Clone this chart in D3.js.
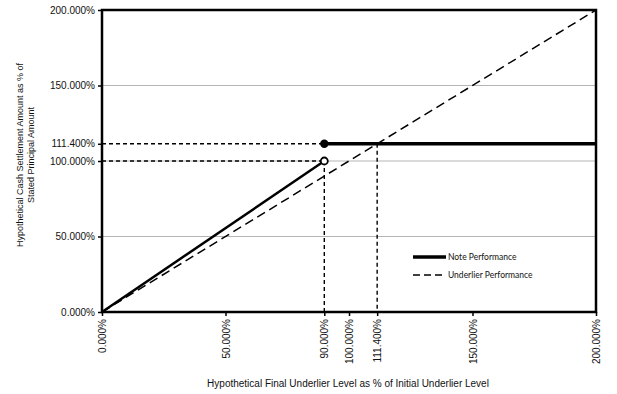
<!DOCTYPE html>
<html>
<head>
<meta charset="utf-8">
<script src="https://cdn.jsdelivr.net/npm/d3@7"></script>
<style>
  body { margin: 0; background: #fff; }
  text { font-family: "Liberation Sans", Arial, sans-serif; fill: #111; }
</style>
</head>
<body>
<div id="chart"></div>
<script>
// valores (em %)
const xTicks = [0, 50, 90, 100, 111.4, 150, 200];
const yTicks = [0, 50, 100, 111.4, 150, 200];
const gridLevels = [50, 100, 150];
const noteRise = [[0, 0], [90, 100]];
const noteFlat = [[90, 111.4], [200, 111.4]];
const underlier = [[0, 0], [200, 200]];
const guideLines = [
    [[0, 111.4], [90, 111.4]],
    [[0, 100], [90, 100]],
    [[90, 100], [90, 0]],
    [[111.4, 111.4], [111.4, 0]]
];
const legendItems = ["Note Performance", "Underlier Performance"];

const width = 617, height = 394;
const margin = { top: 10, right: 21, bottom: 82, left: 102 };

const svg = d3.select("#chart").append("svg")
    .attr("width", width)
    .attr("height", height);

const x = d3.scaleLinear().domain([0, 200]).range([margin.left, width - margin.right]);
const y = d3.scaleLinear().domain([0, 200]).range([height - margin.bottom, margin.top]);
const fmt = d => d.toFixed(3) + "%";

// linhas de grade horizontais
svg.selectAll(".grid")
    .data(gridLevels)
    .enter().append("line")
    .attr("x1", x(0)).attr("x2", x(200))
    .attr("y1", d => y(d)).attr("y2", d => y(d))
    .attr("stroke", "#b5b5b5").attr("stroke-width", 1);

// eixo Y
const yAxis = svg.append("g")
    .attr("transform", `translate(${x(0)},0)`)
    .call(d3.axisLeft(y).tickValues(yTicks).tickFormat(fmt).tickSize(4).tickPadding(3));
yAxis.select(".domain").remove();
yAxis.selectAll(".tick line").attr("stroke", "#000").attr("stroke-width", 1.5);
yAxis.selectAll("text").style("font-size", "10px").attr("fill", "#111");

// eixo X com rótulos girados
const xAxis = svg.append("g")
    .attr("transform", `translate(0,${y(0)})`)
    .call(d3.axisBottom(x).tickValues(xTicks).tickFormat(fmt).tickSize(4));
xAxis.select(".domain").remove();
xAxis.selectAll(".tick line").attr("stroke", "#000").attr("stroke-width", 1.5);
xAxis.selectAll("text")
    .style("font-size", "10px")
    .attr("fill", "#111")
    .attr("transform", "rotate(-90)")
    .attr("text-anchor", "end")
    .attr("x", -7)
    .attr("y", 0)
    .attr("dy", "0.35em");

const line = d3.line().x(d => x(d[0])).y(d => y(d[1]));

// linhas de referência tracejadas
svg.selectAll(".guide")
    .data(guideLines)
    .enter().append("path")
    .attr("d", line)
    .attr("fill", "none")
    .attr("stroke", "#000")
    .attr("stroke-width", 1.4)
    .attr("stroke-dasharray", "4,3");

// desempenho do ativo subjacente
svg.append("path")
    .attr("d", line(underlier))
    .attr("fill", "none")
    .attr("stroke", "#000")
    .attr("stroke-width", 1.5)
    .attr("stroke-dasharray", "9,5");

// desempenho da nota
svg.append("path")
    .attr("d", line(noteRise))
    .attr("fill", "none")
    .attr("stroke", "#000")
    .attr("stroke-width", 2.5);
svg.append("path")
    .attr("d", line(noteFlat))
    .attr("fill", "none")
    .attr("stroke", "#000")
    .attr("stroke-width", 3.5);

// moldura do gráfico
svg.append("rect")
    .attr("x", x(0)).attr("y", y(200))
    .attr("width", x(200) - x(0))
    .attr("height", y(0) - y(200))
    .attr("fill", "none")
    .attr("stroke", "#000")
    .attr("stroke-width", 2.5);

// marcadores
svg.append("circle")
    .attr("cx", x(noteRise[1][0])).attr("cy", y(noteRise[1][1]))
    .attr("r", 3.5)
    .attr("fill", "#fff").attr("stroke", "#000").attr("stroke-width", 1.8);
svg.append("circle")
    .attr("cx", x(noteFlat[0][0])).attr("cy", y(noteFlat[0][1]))
    .attr("r", 4.2)
    .attr("fill", "#000");

// legenda
const legend = svg.append("g").attr("transform", "translate(413,257)");
legendItems.forEach((label, i) => {
    const g = legend.append("g").attr("transform", `translate(0,${i * 18})`);
    g.append("line")
        .attr("x1", 0).attr("x2", 33)
        .attr("stroke", "#000")
        .attr("stroke-width", i === 0 ? 3.5 : 1.5)
        .attr("stroke-dasharray", i === 0 ? null : "7,4");
    g.append("text")
        .attr("x", 35).attr("dy", "0.35em")
        .style("font-family", "Lato, 'Open Sans', sans-serif")
        .style("font-size", "8.5px")
        .text(label);
});

// títulos dos eixos
svg.append("text")
    .attr("transform", `translate(20,155) rotate(-90)`)
    .attr("text-anchor", "middle")
    .attr("dy", "0.35em")
    .style("font-size", "9px")
    .text("Hypothetical Cash Settlement Amount as % of");
svg.append("text")
    .attr("transform", `translate(31,155) rotate(-90)`)
    .attr("text-anchor", "middle")
    .attr("dy", "0.35em")
    .style("font-size", "9px")
    .text("Stated Principal Amount");

svg.append("text")
    .attr("x", 348).attr("y", 383)
    .attr("text-anchor", "middle")
    .attr("dy", "0.35em")
    .style("font-size", "10px")
    .text("Hypothetical Final Underlier Level as % of Initial Underlier Level");
</script>
</body>
</html>
